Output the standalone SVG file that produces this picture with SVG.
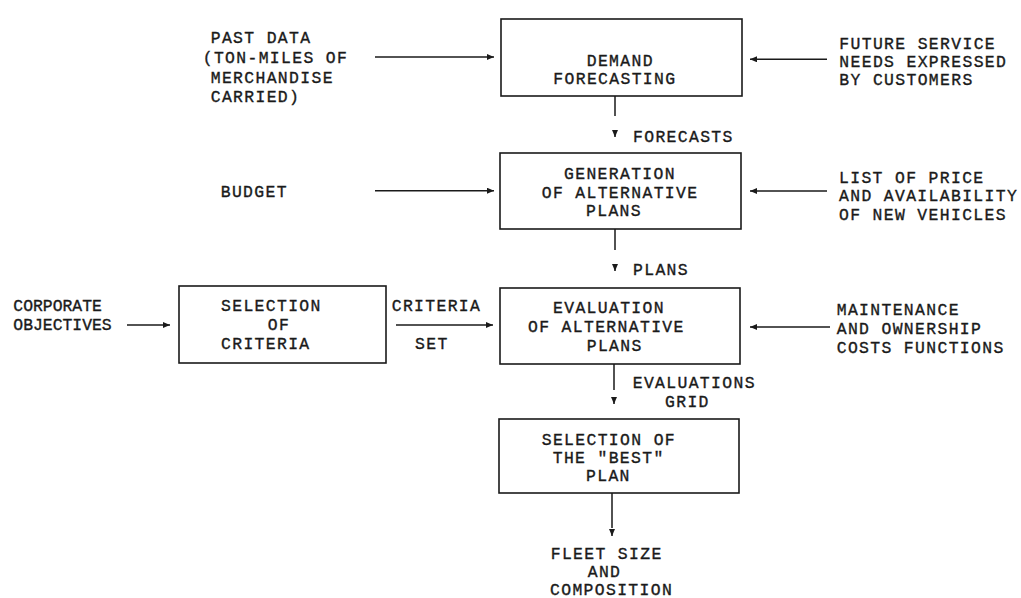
<svg xmlns="http://www.w3.org/2000/svg" width="1021" height="598" viewBox="0 0 1021 598">
<defs>
<marker id="ah" markerUnits="userSpaceOnUse" markerWidth="8" markerHeight="7" refX="7" refY="3" orient="auto">
<path d="M0,0 L7,3 L0,6 z" fill="#1a1a1a"/>
</marker>
<style>
text{font-family:"Liberation Mono","Courier New",monospace;font-size:16.4px;letter-spacing:1.36px;fill:#1a1a1a;stroke:#1a1a1a;stroke-width:0.35;}
.narrow{letter-spacing:0px;}
.box{fill:none;stroke:#1a1a1a;stroke-width:1.6;}
.c{fill:none;stroke:#1a1a1a;stroke-width:1.5;marker-end:url(#ah);}
</style>
</defs>
<rect width="1021" height="598" fill="#ffffff"/>

<g id="past-data">
<text x="210.7" y="43">PAST DATA</text>
<text x="202.7" y="62.7">(TON-MILES OF</text>
<text x="210.7" y="82.7">MERCHANDISE</text>
<text x="210.7" y="101.7">CARRIED)</text>
</g>
<g id="demand-forecasting">
<rect class="box" x="501" y="19" width="241" height="77"/>
<text x="586.7" y="66">DEMAND</text>
<text x="553.3" y="84">FORECASTING</text>
</g>
<g id="future-service">
<text x="839.3" y="49.3">FUTURE SERVICE</text>
<text x="839.3" y="66.7">NEEDS EXPRESSED</text>
<text x="839.3" y="85">BY CUSTOMERS</text>
</g>
<g id="budget">
<text x="220.7" y="196.7">BUDGET</text>
</g>
<g id="generation">
<rect class="box" x="500" y="153" width="241" height="76"/>
<text x="564" y="179">GENERATION</text>
<text x="541.7" y="197.7">OF ALTERNATIVE</text>
<text x="586" y="216">PLANS</text>
</g>
<g id="price-list">
<text x="839" y="182.5">LIST OF PRICE</text>
<text x="839" y="201">AND AVAILABILITY</text>
<text x="839" y="219.5">OF NEW VEHICLES</text>
</g>
<g id="corporate-objectives">
<text class="narrow" x="13.3" y="310.7">CORPORATE</text>
<text class="narrow" x="13.3" y="330">OBJECTIVES</text>
</g>
<g id="selection-criteria">
<rect class="box" x="179" y="286" width="207" height="77"/>
<text x="221" y="311">SELECTION</text>
<text x="267.7" y="329.5">OF</text>
<text x="221" y="349">CRITERIA</text>
</g>
<g id="evaluation">
<rect class="box" x="500" y="288" width="240" height="76"/>
<text x="553" y="312.7">EVALUATION</text>
<text x="528" y="331.7">OF ALTERNATIVE</text>
<text x="586.7" y="351">PLANS</text>
</g>
<g id="maintenance">
<text x="836.7" y="315">MAINTENANCE</text>
<text x="836.7" y="334">AND OWNERSHIP</text>
<text x="836.7" y="353.3">COSTS FUNCTIONS</text>
</g>
<g id="best-plan">
<rect class="box" x="499" y="419" width="240" height="74"/>
<text x="541.7" y="445">SELECTION OF</text>
<text x="552.7" y="463">THE "BEST"</text>
<text x="586" y="481">PLAN</text>
</g>
<g id="fleet">
<text x="550.7" y="558.5">FLEET SIZE</text>
<text x="587.7" y="577">AND</text>
<text x="550" y="595">COMPOSITION</text>
</g>

<g id="connectors">
<path class="c" d="M375 57 H494"/>
<path class="c" d="M827 59.3 H750"/>
<path class="c" d="M375 190.7 H494"/>
<path class="c" d="M827 191 H750"/>
<path class="c" d="M127 325 H170"/>
<path class="c" d="M396 325 H493"/>
<path class="c" d="M830 327 H750"/>
<path class="c" d="M615 96 V116 M615 131 V137"/>
<path class="c" d="M615 229 V250 M615 265 V271"/>
<path class="c" d="M614 364 V390 M614 398 V404"/>
<path class="c" d="M612 493 V528 M612 530 V536"/>
<text x="633" y="141.7">FORECASTS</text>
<text x="633" y="274.5">PLANS</text>
<text x="632.7" y="388">EVALUATIONS</text>
<text x="665" y="407">GRID</text>
<text x="391.7" y="311">CRITERIA</text>
<text x="415" y="349">SET</text>
</g>
</svg>
